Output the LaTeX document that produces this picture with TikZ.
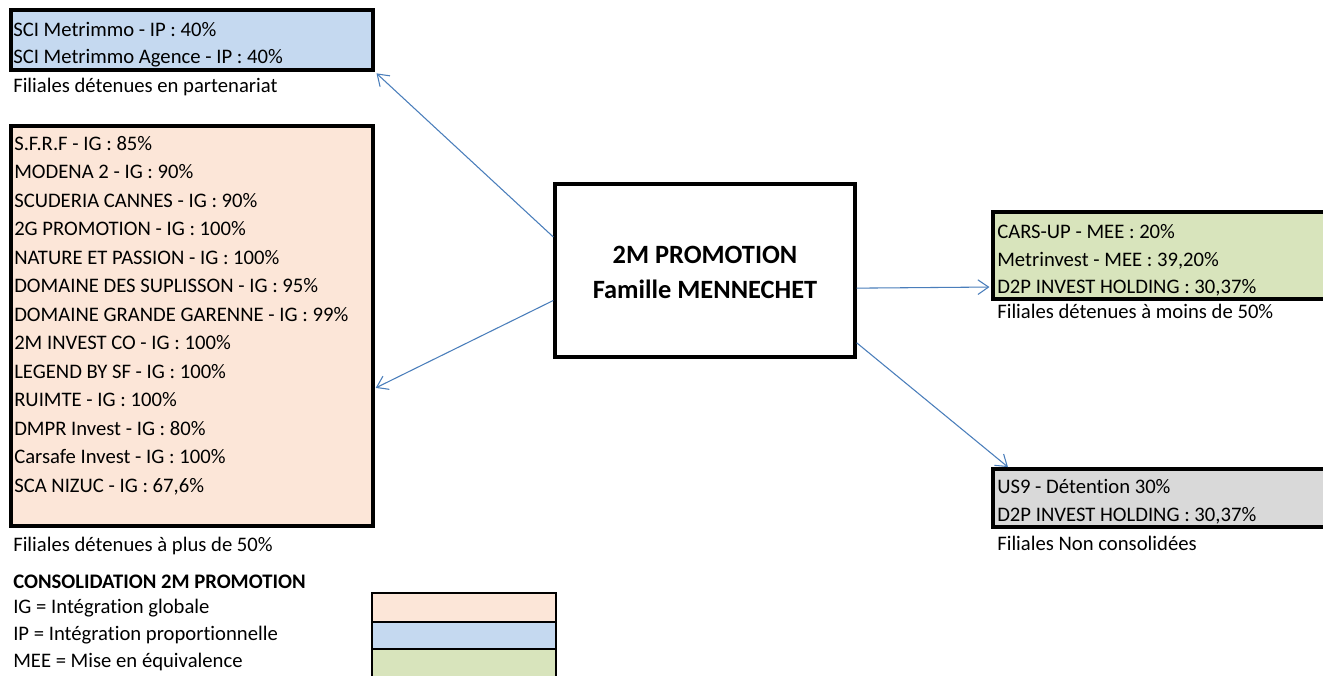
\documentclass[tikz,border=0pt]{standalone}
\usepackage{fontspec}
\setmainfont{Carlito}[Ligatures=NoCommon]
\usetikzlibrary{fit,calc,arrows.meta}
\definecolor{igorange}{HTML}{FCE6D8}
\definecolor{ipblue}{HTML}{C5D9F0}
\definecolor{meegreen}{HTML}{D8E4BC}
\definecolor{ncgrey}{HTML}{D9D9D9}
\definecolor{arrowblue}{HTML}{4A7EBB}
\tikzset{
  box/.style={draw=black, line width=2.3pt, inner sep=0pt},
  swatch/.style={draw=black, line width=1.6pt, inner sep=0pt},
  txt/.style={anchor=base west, inner sep=0pt, font=\fontsize{15.5pt}{18pt}\selectfont},
  ttl/.style={anchor=base, inner sep=0pt, font=\fontsize{19.8pt}{23pt}\selectfont\bfseries},
  conn/.style={draw=arrowblue, line width=0.8pt, -{Straight Barb[length=8pt,width=11pt,line width=0.8pt]}}
}
\begin{document}
\begin{tikzpicture}[x=0.75pt,y=-0.75pt]
\clip (0,0) rectangle (1323,675);
\fill[white] (0,0) rectangle (1323,675);
% blue box (IP)
\node[box, fill=ipblue, fit={(11,10)(373,70)}] (blue) {};
\node[txt] (b1) at (13,36) {SCI Metrimmo - IP : 40\%};
\node[txt] (b2) at (13,63) {SCI Metrimmo Agence - IP : 40\%};
\node[txt] (bcap) at (13,92) {Filiales détenues en partenariat};
% orange box (IG)
\node[box, fill=igorange, fit={(11,126)(373,526)}] (orange) {};
\foreach \t [count=\i from 0] in {S.F.R.F - IG : 85\%, MODENA 2 - IG : 90\%, SCUDERIA CANNES - IG : 90\%, 2G PROMOTION - IG : 100\%, NATURE ET PASSION - IG : 100\%, DOMAINE DES SUPLISSON - IG : 95\%, DOMAINE GRANDE GARENNE - IG : 99\%, 2M INVEST CO - IG : 100\%, LEGEND BY SF - IG : 100\%, RUIMTE - IG : 100\%, DMPR Invest - IG : 80\%, Carsafe Invest - IG : 100\%, SCA NIZUC - IG : 67{,}6\%}
  \node[txt] (o\i) at (14,{150+28.5*\i}) {\t};
\node[txt] (ocap) at (13,551) {Filiales détenues à plus de 50\%};
% legend
\node[txt, font=\fontsize{15.5pt}{18pt}\selectfont\bfseries] (lgtitle) at (13,588) {CONSOLIDATION 2M PROMOTION};
\node[txt] (lg1) at (13,613) {IG = Intégration globale};
\node[txt] (lg2) at (13,640) {IP = Intégration proportionnelle};
\node[txt] (lg3) at (13,667) {MEE = Mise en équivalence};
\node[swatch, fill=igorange, fit={(372,593)(556,622)}] (sw1) {};
\node[swatch, fill=ipblue, fit={(372,622)(556,649)}] (sw2) {};
\node[swatch, fill=meegreen, fit={(372,649)(556,690)}] (sw3) {};
% main box
\node[box, line width=2.5pt, fill=white, fit={(555,184)(855,357)}] (main) {};
\node[ttl] (m1) at (705,263) {2M PROMOTION};
\node[ttl] (m2) at (705,298) {Famille MENNECHET};
% green box (MEE)
\node[box, fill=meegreen, fit={(993,212)(1345,299)}] (green) {};
\node[txt] (g1) at (997,238) {CARS-UP - MEE : 20\%};
\node[txt] (g2) at (997,266) {Metrinvest - MEE : 39,20\%};
\node[txt] (g3) at (997,293) {D2P INVEST HOLDING : 30,37\%};
\node[txt] (gcap) at (997,318) {Filiales détenues à moins de 50\%};
% grey box (non consolidated)
\node[box, fill=ncgrey, fit={(993,469)(1345,527)}] (grey) {};
\node[txt] (n1) at (997,493) {US9 - Détention 30\%};
\node[txt] (n2) at (997,521) {D2P INVEST HOLDING : 30,37\%};
\node[txt] (ncap) at (997,550) {Filiales Non consolidées};
% connectors
\draw[conn, shorten >=2pt] ($(main.north west)!0.31!(main.south west)$) -- (blue.south east);
\draw[conn, shorten >=1pt] ($(main.north west)!0.67!(main.south west)$) -- ($(orange.north east)!0.655!(orange.south east)$);
\draw[conn, shorten >=1.5pt] ($(main.north east)!0.60!(main.south east)$) -- ($(green.north west)!0.85!(green.south west)$);
\draw[conn, shorten >=0.5pt] ($(main.north east)!0.91!(main.south east)$) -- ($(grey.north west)+(17,0)$);
\end{tikzpicture}
\end{document}
